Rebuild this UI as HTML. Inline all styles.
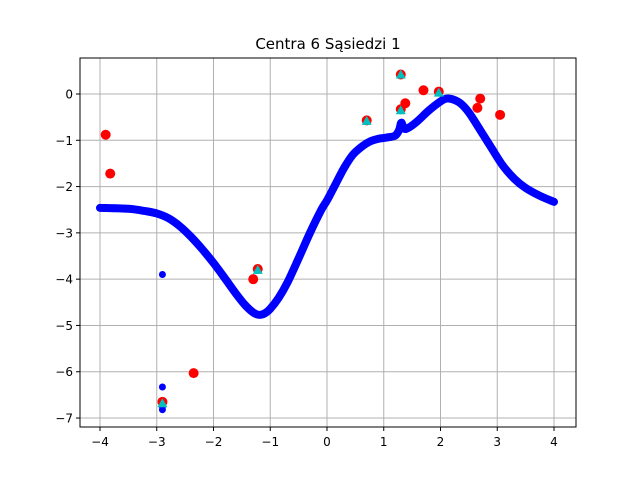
<!DOCTYPE html>
<html><head><meta charset="utf-8"><style>body{margin:0;background:#fff}svg{display:block;font-family:"DejaVu Sans","Liberation Sans",sans-serif}</style></head>
<body>
<svg id="c" width="640" height="480"></svg>
<script>
const curveX=[-4,-3.5,-3.2,-3,-2.8,-2.6,-2.4,-2.2,-2,-1.8,-1.6,-1.45,-1.3,-1.2,-1.1,-1,-0.85,-0.7,-0.5,-0.3,-0.1,0,0.15,0.3,0.45,0.6,0.75,0.9,1.05,1.2,1.27,1.31,1.36,1.45,1.6,1.8,2,2.1,2.2,2.35,2.5,2.7,2.9,3.1,3.3,3.5,3.75,4];
const curveY=[-2.46,-2.48,-2.53,-2.58,-2.68,-2.85,-3.08,-3.35,-3.65,-3.98,-4.32,-4.55,-4.72,-4.77,-4.74,-4.64,-4.4,-4.08,-3.55,-3.0,-2.5,-2.3,-1.95,-1.6,-1.32,-1.15,-1.03,-0.97,-0.94,-0.9,-0.78,-0.62,-0.75,-0.72,-0.58,-0.35,-0.16,-0.1,-0.11,-0.2,-0.4,-0.78,-1.17,-1.55,-1.83,-2.03,-2.2,-2.33];
const blueX=[-2.9,-2.9,-2.9,-2.9];
const blueY=[-3.9,-6.33,-6.75,-6.82];
const redX=[-3.9,-3.82,-2.9,-2.35,-1.3,-1.22,0.7,1.3,1.3,1.38,1.7,1.97,2.65,2.7,3.05];
const redY=[-0.88,-1.72,-6.65,-6.03,-4.0,-3.78,-0.57,0.42,-0.33,-0.2,0.08,0.05,-0.3,-0.1,-0.45];
const cyanX=[-2.9,-1.22,0.7,1.3,1.3,1.97];
const cyanY=[-6.68,-3.8,-0.58,0.42,-0.35,0.03];
const xTicks=[-4,-3,-2,-1,0,1,2,3,4];
const yTicks=[0,-1,-2,-3,-4,-5,-6,-7];
const svg=document.getElementById('c');const NS='http://www.w3.org/2000/svg';
const X=v=>327+56.75*v, Y=v=>94-46.29*v;
function mk(t,a,p){const e=document.createElementNS(NS,t);for(const k in a)e.setAttribute(k,a[k]);(p||svg).appendChild(e);return e;}
const L=80,R=576,T=58,B=427;
for(const t of xTicks){const g=mk('line',{x1:X(t),x2:X(t),y1:T,y2:B,stroke:'#b0b0b0','stroke-width':1});
mk('line',{x1:X(t),x2:X(t),y1:B,y2:B+4,stroke:'#000'});
const tx=mk('text',{x:X(t),y:B+19,'text-anchor':'middle','font-size':12});tx.textContent=(t<0?'−'+(-t):t);}
for(const t of yTicks){const g=mk('line',{x1:L,x2:R,y1:Y(t),y2:Y(t),stroke:'#b0b0b0','stroke-width':1});
mk('line',{x1:L-4,x2:L,y1:Y(t),y2:Y(t),stroke:'#000'});
const tx=mk('text',{x:L-7,y:Y(t)+4.5,'text-anchor':'end','font-size':12});tx.textContent=(t<0?'−'+(-t):t);}
const P=curveX.map((x,i)=>[X(x),Y(curveY[i])]);
let d='M'+P[0][0]+','+P[0][1];
for(let i=0;i<P.length-1;i++){const p0=P[Math.max(0,i-1)],p1=P[i],p2=P[i+1],p3=P[Math.min(P.length-1,i+2)];
d+=` C${p1[0]+(p2[0]-p0[0])/6},${p1[1]+(p2[1]-p0[1])/6} ${p2[0]-(p3[0]-p1[0])/6},${p2[1]-(p3[1]-p1[1])/6} ${p2[0]},${p2[1]}`;}
const pl=mk('path',{d:d,fill:'none',stroke:'#0000ff','stroke-width':8,'stroke-linejoin':'round','stroke-linecap':'round'});

blueX.forEach((x,i)=>{const c=mk('circle',{cx:X(x),cy:Y(blueY[i]),r:3.5,fill:'#0000ff'});});
redX.forEach((x,i)=>{const c=mk('circle',{cx:X(x),cy:Y(redY[i]),r:5,fill:'#ff0000'});});
cyanX.forEach((x,i)=>{const cx=X(x),cy=Y(cyanY[i]);const p=mk('polygon',{points:`${cx},${cy-5} ${cx-5},${cy+4} ${cx+5},${cy+4}`,fill:'#00bfbf'});});
const fr=mk('rect',{x:L,y:T,width:R-L,height:B-T,fill:'none',stroke:'#000','stroke-width':1});
const ti=mk('text',{x:328,y:49,'text-anchor':'middle','font-size':15});ti.textContent='Centra 6 Sąsiedzi 1';
</script>
</body></html>
